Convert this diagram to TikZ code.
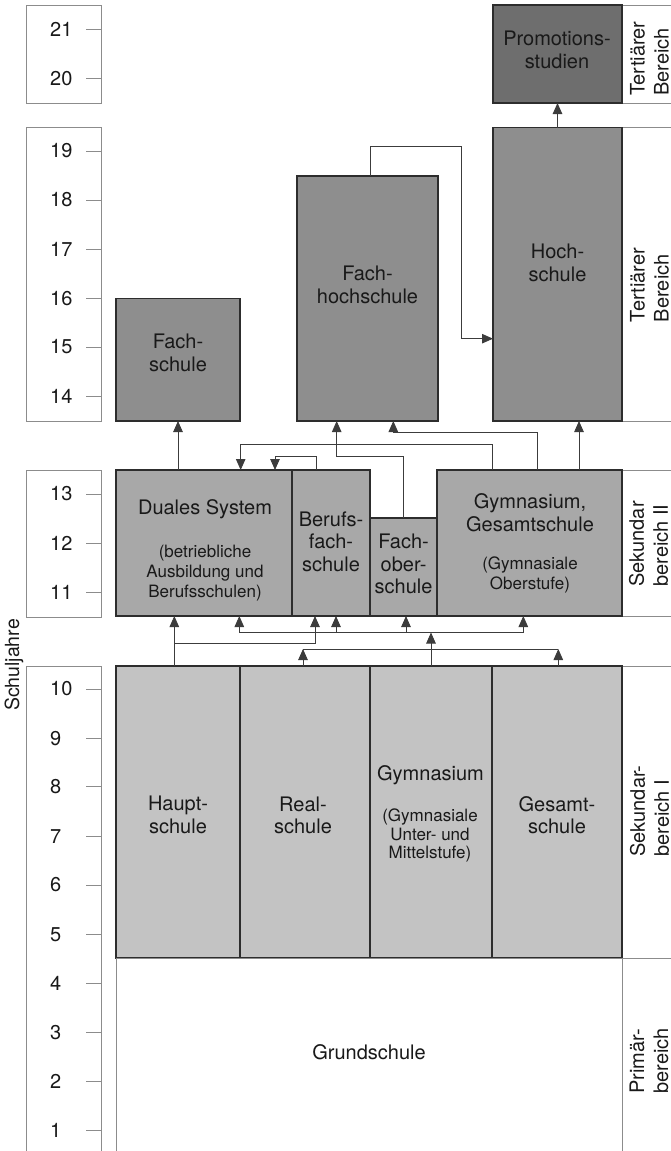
\documentclass[tikz,border=0pt]{standalone}
\usepackage{fontspec}
\setmainfont{TeX Gyre Heros}
\usetikzlibrary{arrows.meta,calc}
\definecolor{promoC}{RGB}{110,110,110}
\definecolor{tertC}{RGB}{142,142,142}
\definecolor{sekiiC}{RGB}{168,168,168}
\definecolor{sekiC}{RGB}{195,195,195}
\definecolor{lineC}{RGB}{45,45,45}
\definecolor{connC}{RGB}{60,60,60}
\definecolor{frameC}{RGB}{140,140,140}
\definecolor{txtC}{RGB}{25,25,25}
\tikzset{
  schbox/.style={draw=lineC, line width=1.3pt, inner sep=0pt, outer sep=0pt, anchor=north west},
  band/.style={draw=frameC, line width=0.8pt, inner sep=0pt, outer sep=0pt, anchor=north west},
  tickline/.style={draw=frameC, line width=0.8pt},
  conn/.style={draw=connC, line width=0.9pt},
  arr/.style={conn, -{Triangle[length=11pt,width=9.5pt]}},
  mtext/.style={text=txtC, align=center, inner sep=0pt, font=\fontsize{20}{22.5}\selectfont},
  stext/.style={text=txtC, align=center, inner sep=0pt, font=\fontsize{17}{19.6}\selectfont},
  stexttwo/.style={text=txtC, align=center, inner sep=0pt, font=\fontsize{17}{18.6}\selectfont},
  vlabel/.style={text=txtC, rotate=90, align=left, inner sep=0pt, font=\fontsize{20}{24}\selectfont},
  yearnum/.style={text=txtC, anchor=west, inner sep=0pt, font=\fontsize{20}{22}\selectfont}
}
\begin{document}
\begin{tikzpicture}[x=1pt,y=-1pt]
\useasboundingbox (0,0) rectangle (671,1151);
\clip (0,0) rectangle (671,1151);

% right label bands
\node[band, minimum width=70, minimum height=98] (b-tert1) at (622,5) {};
\node[band, minimum width=70, minimum height=293.5] (b-tert2) at (622,127.5) {};
\node[band, minimum width=70, minimum height=146] (b-sek2) at (622,470) {};
\node[band, minimum width=70, minimum height=292] (b-sek1) at (622,666) {};
\node[band, minimum width=70, minimum height=220] (b-prim) at (622,958) {};

% year column
\node[band, minimum width=75, minimum height=98] (yb1) at (26,5) {};
\node[band, minimum width=75, minimum height=293.5] (yb2) at (26,127.5) {};
\node[band, minimum width=75, minimum height=147] (yb3) at (26,470) {};
\node[band, minimum width=75, minimum height=510] (yb4) at (26,666) {};
\foreach \n/\yy in {21/29.3,20/78.3,19/151,18/200,17/249.3,16/298.3,15/347,14/396.7,13/494,12/543,11/592,10/689,9/738.3,8/786.7,7/836.7,6/885,5/934.3,4/983.3,3/1032.7,2/1081.7,1/1130.7}{
  \node[yearnum] (y\n) at (50,\yy) {\n};
  \draw[tickline] (86,\yy) -- (101,\yy);
}
\node[text=txtC, rotate=90, inner sep=0pt, font=\fontsize{19.5}{22}\selectfont] (schuljahre) at (14,665) {Schuljahre};

% school boxes
\node[schbox, fill=promoC, minimum width=129, minimum height=98] (promo) at (493,5) {};
\node[schbox, fill=tertC, minimum width=124, minimum height=122.5] (fs) at (116,298.5) {};
\node[schbox, fill=tertC, minimum width=141, minimum height=245] (fh) at (297,176) {};
\node[schbox, fill=tertC, minimum width=129, minimum height=293.5] (hs) at (493,127.5) {};
\node[schbox, fill=sekiiC, minimum width=176, minimum height=146] (duales) at (116,470) {};
\node[schbox, fill=sekiiC, minimum width=78, minimum height=146] (bfs) at (292,470) {};
\node[schbox, fill=sekiiC, minimum width=67, minimum height=98] (fos) at (370,518) {};
\node[schbox, fill=sekiiC, minimum width=185, minimum height=146] (gymo) at (437,470) {};
\node[schbox, fill=sekiC, minimum width=124, minimum height=292] (haupt) at (116,666) {};
\node[schbox, fill=sekiC, minimum width=130, minimum height=292] (real) at (240,666) {};
\node[schbox, fill=sekiC, minimum width=122, minimum height=292] (gyml) at (370,666) {};
\node[schbox, fill=sekiC, minimum width=130, minimum height=292] (gesamt) at (492,666) {};
\node[band, fill=white, minimum width=506, minimum height=220] (grund) at (116,958) {};

% bend points
\coordinate (k1) at (461.7,146.7);
\coordinate (k2) at (336.7,456.3);
\coordinate (k3) at (393.3,432.3);
\coordinate (k4) at (240.7,444.3);
\coordinate (k5) at (275,456.7);
\coordinate (k6) at (315,643.3);
\coordinate (k8) at (239.3,632.5);
\coordinate (k9) at (523.3,632.5);
\coordinate (k10) at (336,632.5);
\coordinate (k11) at (406,632.5);
\coordinate (k12) at (303,649);
\coordinate (k13) at (558.3,649);

% tertiary connectors
\draw[arr] (hs.north) -- (promo.south);
\draw[arr] ($(fh.north west)+(73,0)$) |- (k1) |- ($(hs.north west)+(0,211.2)$);
\draw[arr] (duales.north -| fs.south) -- (fs.south);
\draw[arr] (fos.north) |- (k2) -- (k2 |- fh.south);
\draw[arr] ($(gymo.north west)+(100.3,0)$) |- (k3) -- (k3 |- fh.south);
\draw[arr] ($(gymo.north west)+(55.7,0)$) |- (k4) -- (k4 |- duales.north);
\draw[arr] ($(bfs.north west)+(24.7,0)$) |- (k5) -- (k5 |- duales.north);
\draw[arr] ($(gymo.north west)+(142,0)$) coordinate (g1) -- (g1 |- hs.south);

% secondary connectors
\draw[arr] ($(haupt.north west)+(58.3,0)$) coordinate (h0) -- (h0 |- duales.south);
\draw[arr] (h0) |- (k6) -- (k6 |- bfs.south);
\draw[conn] (k8) -- (k9);
\draw[arr] (k8) -- (k8 |- duales.south);
\draw[arr] (k10) -- (k10 |- bfs.south);
\draw[arr] (k11) -- (k11 |- fos.south);
\draw[arr] (k9) -- (k9 |- gymo.south);
\draw[arr] (gyml.north) -- (gyml.north |- k8);
\draw[conn] (k12) -- (k13);
\draw[arr] (k12 |- real.north) -- (k12);
\draw[arr] (k13 |- gesamt.north) -- (k13);

% texts
\node[mtext] (t-promo) at (557,49.7) {Promotions-\\studien};
\node[mtext] (t-fs) at (178,353) {Fach-\\schule};
\node[mtext] (t-fh) at (367.5,284.7) {Fach-\\hochschule};
\node[mtext] (t-hs) at (557.5,263) {Hoch-\\schule};
\node[mtext] (t-dual) at (205,509.3) {Duales System};
\node[stext] (t-dual2) at (205,573) {(betriebliche\\Ausbildung und\\Berufsschulen)};
\node[mtext] (t-bfs) at (331,541.7) {Berufs-\\fach-\\schule};
\node[mtext] (t-fos) at (403.6,564.3) {Fach-\\ober-\\schule};
\node[mtext] (t-gymo) at (530,512.5) {Gymnasium,\\Gesamtschule};
\node[stext] (t-gymo2) at (530,574.7) {(Gymnasiale\\Oberstufe)};
\node[mtext] (t-haupt) at (178,815) {Haupt-\\schule};
\node[mtext] (t-real) at (303,815.3) {Real-\\schule};
\node[mtext] (t-gyml) at (430.5,775) {Gymnasium};
\node[stexttwo] (t-gyml2) at (430,835.8) {(Gymnasiale\\Unter- und\\Mittelstufe)};
\node[mtext] (t-gesamt) at (557,815) {Gesamt-\\schule};
\node[mtext] (t-grund) at (369,1052) {Grundschule};

% vertical area labels
\node[vlabel] (l-tert1) at (649.5,58.5) {Tertiärer\\Bereich};
\node[vlabel] (l-tert2) at (649.5,285) {Tertiärer\\Bereich};
\node[vlabel] (l-sek2) at (648.5,544) {Sekundar\\bereich II};
\node[vlabel] (l-sek1) at (649.5,811) {Sekundar-\\bereich I};
\node[vlabel] (l-prim) at (649,1061) {Primär-\\bereich};
\end{tikzpicture}
\end{document}
